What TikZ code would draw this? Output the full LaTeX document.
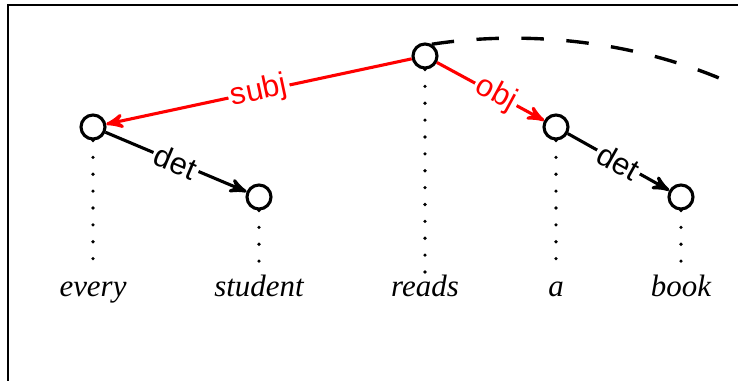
\documentclass[tikz,border=0pt]{standalone}
\usepackage{fontspec}
\setmainfont{Liberation Serif}
\setsansfont{Liberation Sans}
\usetikzlibrary{positioning}
\usetikzlibrary{arrows}

\tikzset{
  tok/.style={circle, draw, line width=1.1pt, inner sep=0pt, minimum size=0.3cm, fill=white},
  word/.style={anchor=base, font=\fontsize{11}{13}\selectfont\itshape},
  dep/.style={->, >=stealth', line width=1.1pt},
  lab/.style={font=\fontsize{11}{13}\selectfont\sffamily, fill=white, inner sep=1pt, sloped},
  proj/.style={line width=1.3pt, line cap=round, dash pattern=on 0pt off 6pt}
}

\begin{document}
\begin{tikzpicture}
\useasboundingbox (0,0) rectangle (9.225,4.7625);
\draw[line width=0.8pt] (0.1,-1) rectangle (10,4.7);

% tree nodes
\node[tok] (every) at (1.1625,3.175) {};
\node[tok] (student) at (3.2375,2.3) {};
\node[tok] (reads) at (5.3125,4.0625) {};
\node[tok] (a) at (6.95,3.175) {};
\node[tok] (book) at (8.5125,2.3) {};
\coordinate (far) at (9.4,3.6);

% words
\node[word] (w1) at (1.1625,1.05) {every};
\node[word] (w2) at (3.2375,1.05) {student};
\node[word] (w3) at (5.3125,1.05) {reads};
\node[word] (w4) at (6.95,1.05) {a};
\node[word] (w5) at (8.5125,1.05) {book};

% projection lines
\draw[proj] (every.south) -- ([yshift=0.3cm]w1.base);
\draw[proj] (student.south) -- ([yshift=0.3cm]w2.base);
\draw[proj] (reads.south) -- ([yshift=0.3cm]w3.base);
\draw[proj] (a.south) -- ([yshift=0.3cm]w4.base);
\draw[proj] (book.south) -- ([yshift=0.3cm]w5.base);

% dependencies
\draw[dep, red] (reads) -- node[lab] {subj} (every);
\draw[dep, red] (reads) -- node[lab, pos=0.55] {obj} (a);
\draw[dep] (every) -- node[lab] {det} (student);
\draw[dep] (a) -- node[lab] {det} (book);
\draw[line width=1.2pt, dash pattern=on 8pt off 8pt]
  (reads.60) .. controls (6.5,4.38) and (8.0,4.3) .. (far);

\end{tikzpicture}
\end{document}
